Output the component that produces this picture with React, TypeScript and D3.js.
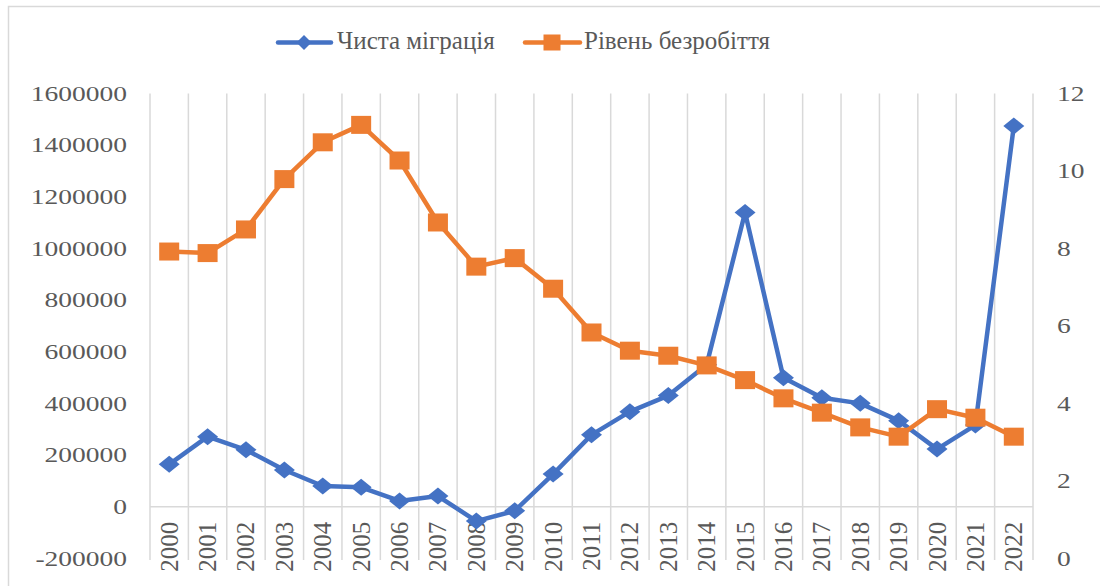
import React from "react";
import * as d3 from "d3";

const years = ["2000","2001","2002","2003","2004","2005","2006","2007","2008","2009","2010","2011","2012","2013","2014","2015","2016","2017","2018","2019","2020","2021","2022"];
const netMigration = [164000,271000,220000,142000,80000,75000,22000,41000,-56000,-16000,126000,278000,368000,430000,550000,1139000,499000,422000,400000,333000,223000,316000,1474000];
const unemployment = [7.92,7.88,8.49,9.79,10.74,11.19,10.27,8.67,7.53,7.75,6.96,5.83,5.36,5.23,4.98,4.6,4.13,3.76,3.38,3.14,3.85,3.63,3.14];
const leftTicks = [-200000,0,200000,400000,600000,800000,1000000,1200000,1400000,1600000];
const rightTicks = [0,2,4,6,8,10,12];
const seriesNames = ["Чиста міграція", "Рівень безробіття"];

const BLUE = "#4472C4";
const ORANGE = "#ED7D31";
const GRID = "#d9d9d9";
const TXT = "#595959";
const FONT = "'Liberation Serif', 'Times New Roman', serif";

export default function App() {
  const x = d3.scaleBand<string>().domain(years).range([150, 1033]);
  const yL = d3.scaleLinear().domain([-200000, 1600000]).range([558.3, 93.5]);
  const yR = d3.scaleLinear().domain([0, 12]).range([558.3, 93.5]);
  const cx = (y: string) => (x(y) as number) + x.bandwidth() / 2;

  const lineL = d3.line<number>().x((_, i) => cx(years[i])).y((d) => yL(d));
  const lineR = d3.line<number>().x((_, i) => cx(years[i])).y((d) => yR(d));

  const bounds = d3.range(years.length + 1).map((i) => 150 + i * x.step());

  const diamond = (px: number, py: number, w: number, h: number) =>
    `M${px - w},${py} L${px},${py - h} L${px + w},${py} L${px},${py + h} Z`;

  return (
    <svg width={1100} height={586} style={{ position: "absolute", left: 0, top: 0, background: "#fff" }} fontFamily={FONT}>
      <rect x={8.5} y={6.5} width={1100} height={600} fill="#fff" stroke={GRID} strokeWidth={1.5} />
      {bounds.map((bx, i) => (
        <line key={"g" + i} x1={bx} x2={bx} y1={93.5} y2={560} stroke={GRID} strokeWidth={1.5} />
      ))}
      <line x1={150} x2={1033} y1={yL(0)} y2={yL(0)} stroke={GRID} strokeWidth={1.5} />

      {leftTicks.map((t) => (
        <text key={"l" + t} transform={`translate(127,${yL(t) + 7.2}) scale(1.25,1)`} textAnchor="end" fontSize={22} fill={TXT}>
          {t}
        </text>
      ))}
      {rightTicks.map((t) => (
        <text key={"r" + t} transform={`translate(1057,${yR(t) + 7.2}) scale(1.25,1)`} textAnchor="start" fontSize={22} fill={TXT}>
          {t}
        </text>
      ))}
      {years.map((yr) => (
        <text key={"y" + yr} transform={`translate(${cx(yr) + 8.5},521.7) rotate(-90)`} textAnchor="end" fontSize={25} fill={TXT}>
          {yr}
        </text>
      ))}

      <path d={lineL(netMigration) || ""} fill="none" stroke={BLUE} strokeWidth={4.5} strokeLinejoin="round" strokeLinecap="round" />
      {netMigration.map((v, i) => (
        <path key={"d" + i} d={diamond(cx(years[i]), yL(v), 10.5, 8.5)} fill={BLUE} />
      ))}
      <path d={lineR(unemployment) || ""} fill="none" stroke={ORANGE} strokeWidth={4.5} strokeLinejoin="round" strokeLinecap="round" />
      {unemployment.map((v, i) => (
        <rect key={"s" + i} x={cx(years[i]) - 10} y={yR(v) - 9} width={20} height={18} fill={ORANGE} />
      ))}

      <line x1={278} x2={331} y1={42.5} y2={42.5} stroke={BLUE} strokeWidth={4.5} strokeLinecap="round" />
      <path d={diamond(304, 42.5, 7.5, 7.5)} fill={BLUE} />
      <text x={337} y={49} fontSize={25} fill={TXT}>{seriesNames[0]}</text>
      <line x1={525} x2={580} y1={42.5} y2={42.5} stroke={ORANGE} strokeWidth={4.5} strokeLinecap="round" />
      <rect x={543.5} y={34.5} width={17} height={16} fill={ORANGE} />
      <text x={584} y={49} fontSize={25} fill={TXT}>{seriesNames[1]}</text>
    </svg>
  );
}
